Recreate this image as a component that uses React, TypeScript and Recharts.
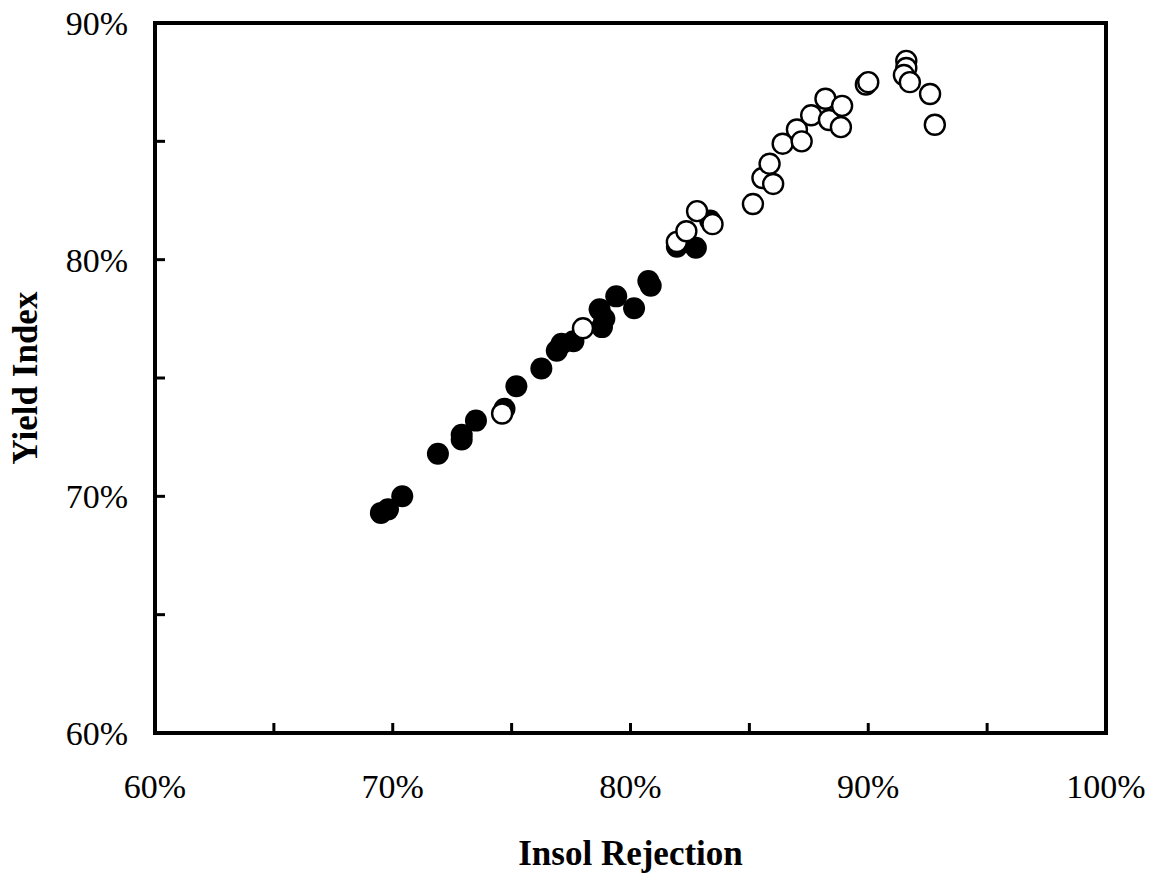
import { ScatterChart, Scatter, XAxis, YAxis, ReferenceLine } from "recharts";

// Insol rejection (%) vs yield index (%), solid points
const solidX = [
  69.5, 69.8, 70.4, 71.9, 72.9, 72.9, 73.5, 74.7, 75.2, 76.25, 76.9, 77.1, 77.6,
  78.7, 78.9, 78.8, 79.4, 80.15, 80.75, 80.85, 81.95, 82.75, 83.35,
];
const solidY = [
  69.3, 69.45, 70.0, 71.8, 72.4, 72.6, 73.2, 73.7, 74.65, 75.4, 76.15, 76.45, 76.55,
  77.9, 77.5, 77.15, 78.45, 77.95, 79.1, 78.9, 80.55, 80.5, 81.65,
];

// open points
const openX = [
  74.6, 78.0, 81.95, 82.35, 82.8, 83.45, 85.15, 85.55, 85.85, 86.0, 86.4, 87.0, 87.2,
  87.6, 88.2, 88.35, 88.9, 88.85, 89.9, 90.0, 91.6, 91.6, 91.5, 91.75, 92.6, 92.8,
];
const openY = [
  73.5, 77.1, 80.75, 81.2, 82.05, 81.5, 82.35, 83.45, 84.05, 83.2, 84.9, 85.5, 85.0,
  86.1, 86.8, 85.9, 86.5, 85.6, 87.4, 87.5, 88.4, 88.1, 87.8, 87.5, 87.0, 85.7,
];

const xTicks = [60, 65, 70, 75, 80, 85, 90, 95, 100];
const yTicks = [60, 65, 70, 75, 80, 85, 90];

const solidData = solidX.map((x, i) => ({ x, y: solidY[i] }));
const openData = openX.map((x, i) => ({ x, y: openY[i] }));

const FONT = "'Liberation Serif', 'Times New Roman', serif";
const TICK_LEN = 10;

function XTick({ x, y, payload }: any) {
  const v = payload.value as number;
  return (
    <g>
      <line x1={x} y1={y} x2={x} y2={y - TICK_LEN} stroke="#000" strokeWidth={3} />
      {v % 10 === 0 && (
        <text x={x} y={y + 65} textAnchor="middle" fontFamily={FONT} fontSize={34} fill="#000">
          {v}%
        </text>
      )}
    </g>
  );
}

function YTick({ x, y, payload }: any) {
  const v = payload.value as number;
  return (
    <g>
      <line x1={x} y1={y} x2={x + TICK_LEN} y2={y} stroke="#000" strokeWidth={3} />
      {v % 10 === 0 && (
        <text x={x - 27} y={y + 12} textAnchor="end" fontFamily={FONT} fontSize={34} fill="#000">
          {v}%
        </text>
      )}
    </g>
  );
}

const SolidDot = (p: any) => <circle cx={p.cx} cy={p.cy} r={11} fill="#000" />;
const OpenDot = (p: any) => (
  <circle cx={p.cx} cy={p.cy} r={10} fill="#fff" stroke="#000" strokeWidth={2.4} />
);

export default function App() {
  return (
    <div style={{ position: "absolute", left: 0, top: 0, background: "#fff" }}>
      <ScatterChart width={1160} height={873} margin={{ top: 23, right: 54, bottom: 0, left: 0 }}>
        <XAxis
          type="number"
          dataKey="x"
          domain={[60, 100]}
          ticks={xTicks}
          interval={0}
          tickSize={0}
          tickMargin={0}
          tickLine={false}
          tick={<XTick />}
          height={140}
          axisLine={{ stroke: "#000", strokeWidth: 4, strokeLinecap: "square" }}
          label={(props: any) => {
            const vb = props.viewBox;
            return (
              <text
                x={vb.x + vb.width / 2}
                y={vb.y + 132}
                textAnchor="middle"
                fontFamily={FONT}
                fontWeight="bold"
                fontSize={35}
                fill="#000"
              >
                Insol Rejection
              </text>
            );
          }}
        />
        <YAxis
          type="number"
          dataKey="y"
          domain={[60, 90]}
          ticks={yTicks}
          interval={0}
          tickSize={0}
          tickMargin={0}
          tickLine={false}
          tick={<YTick />}
          width={155}
          axisLine={{ stroke: "#000", strokeWidth: 4, strokeLinecap: "square" }}
          label={(props: any) => {
            const vb = props.viewBox;
            const cy = vb.y + vb.height / 2;
            return (
              <text
                x={37}
                y={cy}
                transform={`rotate(-90, 37, ${cy})`}
                textAnchor="middle"
                fontFamily={FONT}
                fontWeight="bold"
                fontSize={35}
                fill="#000"
              >
                Yield Index
              </text>
            );
          }}
        />
        <ReferenceLine y={90} stroke="#000" strokeWidth={4} strokeLinecap="square" />
        <ReferenceLine x={100} stroke="#000" strokeWidth={4} strokeLinecap="square" />
        <Scatter data={solidData} shape={SolidDot} isAnimationActive={false} />
        <Scatter data={openData} shape={OpenDot} isAnimationActive={false} />
      </ScatterChart>
    </div>
  );
}
